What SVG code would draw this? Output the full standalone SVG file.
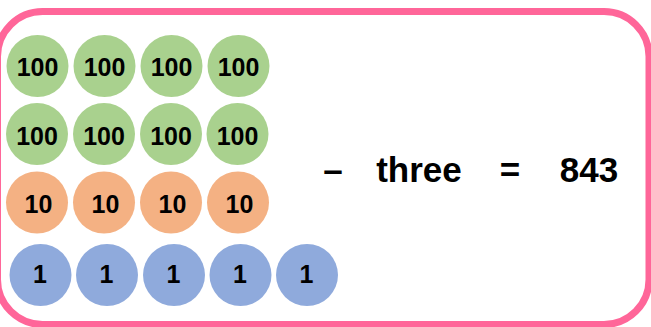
<svg xmlns="http://www.w3.org/2000/svg" width="651" height="327" viewBox="0 0 651 327">
  <style>
    .frame { fill: #ffffff; stroke: #ff6699; stroke-width: 7; }
    .hundred { fill: #a9d18e; }
    .ten { fill: #f4b183; }
    .one { fill: #8faadc; }
    .lbl { font-family: "Liberation Sans", Arial, sans-serif; font-weight: bold; font-size: 25px; fill: #000000; text-anchor: middle; }
    .eq { font-family: "Liberation Sans", Arial, sans-serif; font-weight: bold; font-size: 35px; fill: #000000; text-anchor: middle; }
  </style>

  <!-- rounded frame -->
  <rect class="frame" x="-2.5" y="11.5" width="651.5" height="313" rx="45" ry="45"/>

  <!-- hundreds, row 1 -->
  <g id="h1"><circle class="hundred" cx="37.5" cy="66" r="31"/><text class="lbl" x="37.5" y="75.5">100</text></g>
  <g id="h2"><circle class="hundred" cx="104.5" cy="66" r="31"/><text class="lbl" x="104.5" y="75.5">100</text></g>
  <g id="h3"><circle class="hundred" cx="171.5" cy="66" r="31"/><text class="lbl" x="171.5" y="75.5">100</text></g>
  <g id="h4"><circle class="hundred" cx="238.5" cy="66" r="31"/><text class="lbl" x="238.5" y="75.5">100</text></g>

  <!-- hundreds, row 2 -->
  <g id="h5"><circle class="hundred" cx="37" cy="134" r="31"/><text class="lbl" x="37" y="144.5">100</text></g>
  <g id="h6"><circle class="hundred" cx="104" cy="134" r="31"/><text class="lbl" x="104" y="144.5">100</text></g>
  <g id="h7"><circle class="hundred" cx="171" cy="134" r="31"/><text class="lbl" x="171" y="144.5">100</text></g>
  <g id="h8"><circle class="hundred" cx="237.5" cy="134" r="31"/><text class="lbl" x="237.5" y="144.5">100</text></g>

  <!-- tens -->
  <g id="t1"><circle class="ten" cx="37" cy="202.5" r="31"/><text class="lbl" x="38.5" y="212.5">10</text></g>
  <g id="t2"><circle class="ten" cx="104" cy="202.5" r="31"/><text class="lbl" x="105.5" y="212.5">10</text></g>
  <g id="t3"><circle class="ten" cx="171" cy="202.5" r="31"/><text class="lbl" x="172.5" y="212.5">10</text></g>
  <g id="t4"><circle class="ten" cx="238" cy="202.5" r="31"/><text class="lbl" x="239.5" y="212.5">10</text></g>

  <!-- ones -->
  <g id="o1"><circle class="one" cx="40.5" cy="275" r="31"/><text class="lbl" x="40" y="283">1</text></g>
  <g id="o2"><circle class="one" cx="107" cy="275" r="31"/><text class="lbl" x="106.5" y="283">1</text></g>
  <g id="o3"><circle class="one" cx="174" cy="275" r="31"/><text class="lbl" x="173.5" y="283">1</text></g>
  <g id="o4"><circle class="one" cx="240.5" cy="275" r="31"/><text class="lbl" x="240" y="283">1</text></g>
  <g id="o5"><circle class="one" cx="307" cy="275" r="31"/><text class="lbl" x="306.5" y="283">1</text></g>

  <!-- equation -->
  <g id="equation">
    <text class="eq" x="333" y="182">–</text>
    <text class="eq" x="419" y="182">three</text>
    <text class="eq" x="510" y="182">=</text>
    <text class="eq" x="589" y="182">843</text>
  </g>
</svg>
